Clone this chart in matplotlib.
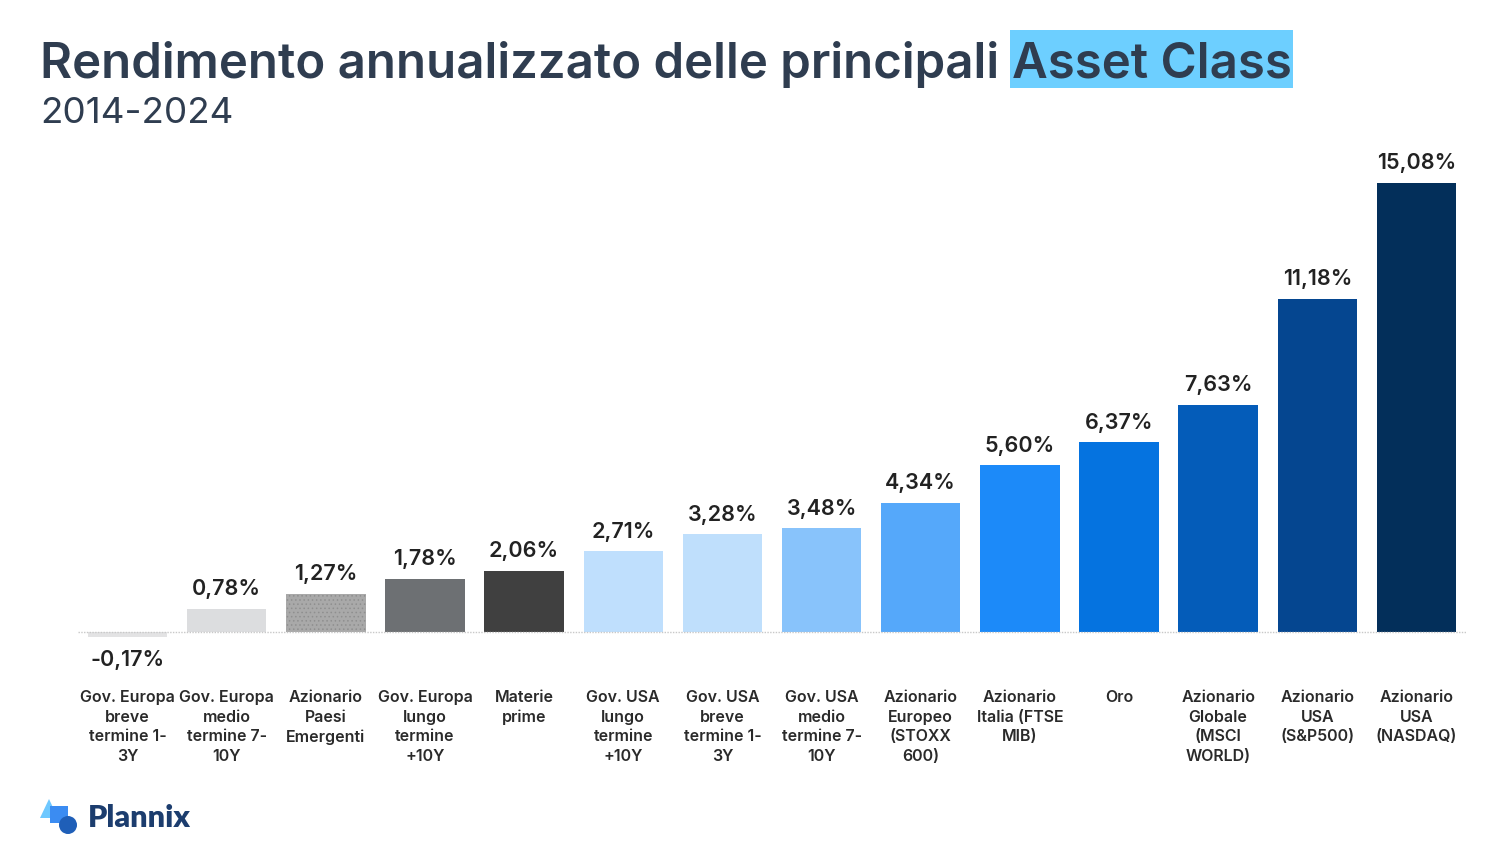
import numpy as np
import matplotlib
matplotlib.use("Agg")
import matplotlib.pyplot as plt
from matplotlib.patches import Polygon, Rectangle, Circle
from matplotlib.transforms import blended_transform_factory

# data
categories = [
    "Gov. Europa\nbreve\ntermine 1-\n3Y",
    "Gov. Europa\nmedio\ntermine 7-\n10Y",
    "Azionario\nPaesi\nEmergenti",
    "Gov. Europa\nlungo\ntermine\n+10Y",
    "Materie\nprime",
    "Gov. USA\nlungo\ntermine\n+10Y",
    "Gov. USA\nbreve\ntermine 1-\n3Y",
    "Gov. USA\nmedio\ntermine 7-\n10Y",
    "Azionario\nEuropeo\n(STOXX\n600)",
    "Azionario\nItalia (FTSE\nMIB)",
    "Oro",
    "Azionario\nGlobale\n(MSCI\nWORLD)",
    "Azionario\nUSA\n(S&P500)",
    "Azionario\nUSA\n(NASDAQ)",
]
returns = [-0.17, 0.78, 1.27, 1.78, 2.06, 2.71, 3.28, 3.48, 4.34, 5.60, 6.37, 7.63, 11.18, 15.08]
bar_colors = ["#e3e3e4", "#dcdddf", "#a9a9a9", "#6d7073", "#404040",
              "#bfdffd", "#bfdffc", "#88c3fb", "#55a8fa", "#1c8af9",
              "#0573e0", "#045cb9", "#054690", "#032f5a"]
bar_hatches = ["", "", "....", "", "", "", "", "", "", "", "", "", "", ""]

W, H = 1502, 852
fig = plt.figure(figsize=(W / 100, H / 100), dpi=100)
fig.patch.set_facecolor("white")
plt.rcParams["hatch.linewidth"] = 0.6

title_col = "#2f3d50"
font_main = ["Inter", "DejaVu Sans"]

# chart axes
px_per_unit = 29.77
y_zero = 632
ymin, ymax = -0.5, 15.5
bot_px = y_zero - ymin * px_per_unit
top_px = y_zero - ymax * px_per_unit
ax = fig.add_axes([78 / W, 1 - bot_px / H, (1466 - 78) / W, (bot_px - top_px) / H])
ax.set_xlim(-0.5, len(returns) - 0.5)
ax.set_ylim(ymin, ymax)
ax.axis("off")

x = np.arange(len(returns))
bars = ax.bar(x, returns, width=0.8, color=bar_colors, linewidth=0, zorder=2)
for b, h in zip(bars, bar_hatches):
    if h:
        b.set_hatch(h)
        b.set_edgecolor("#8f8f8f")
        b.set_linewidth(0)
ax.axhline(0, color="#c8c8c8", linestyle=(0, (1, 1)), linewidth=1, zorder=3)

for xi, v in zip(x, returns):
    label = f"{v:.2f}%".replace(".", ",")
    if v >= 0:
        ax.annotate(label, (xi, v), xytext=(0, 7), textcoords="offset points",
                    ha="center", va="bottom", fontsize=15.5, fontweight="semibold",
                    color="#222222", family=font_main)
    else:
        ax.annotate(label, (xi, v), xytext=(0, -9), textcoords="offset points",
                    ha="center", va="top", fontsize=15.5, fontweight="semibold",
                    color="#222222", family=font_main)

tr = blended_transform_factory(ax.transData, fig.transFigure)
for xi, c in zip(x, categories):
    ax.text(xi, 1 - 690 / H, c, transform=tr, ha="center", va="top",
            fontsize=11.5, fontweight="semibold", color="#2a2a2a",
            linespacing=1.38, family=font_main)

# title with highlighted part
t1 = fig.text(40 / W, 1 - 78 / H, "Rendimento annualizzato delle principali ",
              fontsize=35.4, fontweight="semibold", color=title_col,
              family=font_main, va="baseline", ha="left")
fig.canvas.draw()
bb = t1.get_window_extent()
x2 = bb.x1 / W
t2 = fig.text(x2, 1 - 78 / H, "Asset Class", fontsize=35.4, fontweight="semibold",
              color=title_col, family=font_main, va="baseline", ha="left", zorder=3)
fig.canvas.draw()
bb2 = t2.get_window_extent()
fig.patches.append(Rectangle((bb2.x0 - 2, H - 88), bb2.width + 4, 58,
                             transform=None, facecolor="#6dcfff",
                             edgecolor="none", zorder=1))

fig.text(40 / W, 1 - 123 / H, "2014-2024", fontsize=26.5, fontweight="normal",
         color=title_col, family=font_main, va="baseline", ha="left")

# logo
lax = fig.add_axes([35 / W, 1 - 842 / H, 50 / W, 47 / H])
lax.set_xlim(35, 85)
lax.set_ylim(842, 795)
lax.axis("off")
lax.add_patch(Polygon([[40, 818], [49, 799], [58, 818]], closed=True,
                      facecolor="#6ec8ff", edgecolor="none"))
lax.add_patch(Rectangle((50, 806), 18, 17, facecolor="#3b8cf2", edgecolor="none"))
lax.add_patch(Circle((68, 825), 9, facecolor="#1f5fb8", edgecolor="none"))
fig.text(88 / W, 1 - 827 / H, "Plannix", fontsize=22, fontweight="heavy",
         color="#1c3d6e", family=["Lato", "DejaVu Sans"], va="baseline", ha="left")

fig.savefig("out.png", dpi=100, facecolor="white")
